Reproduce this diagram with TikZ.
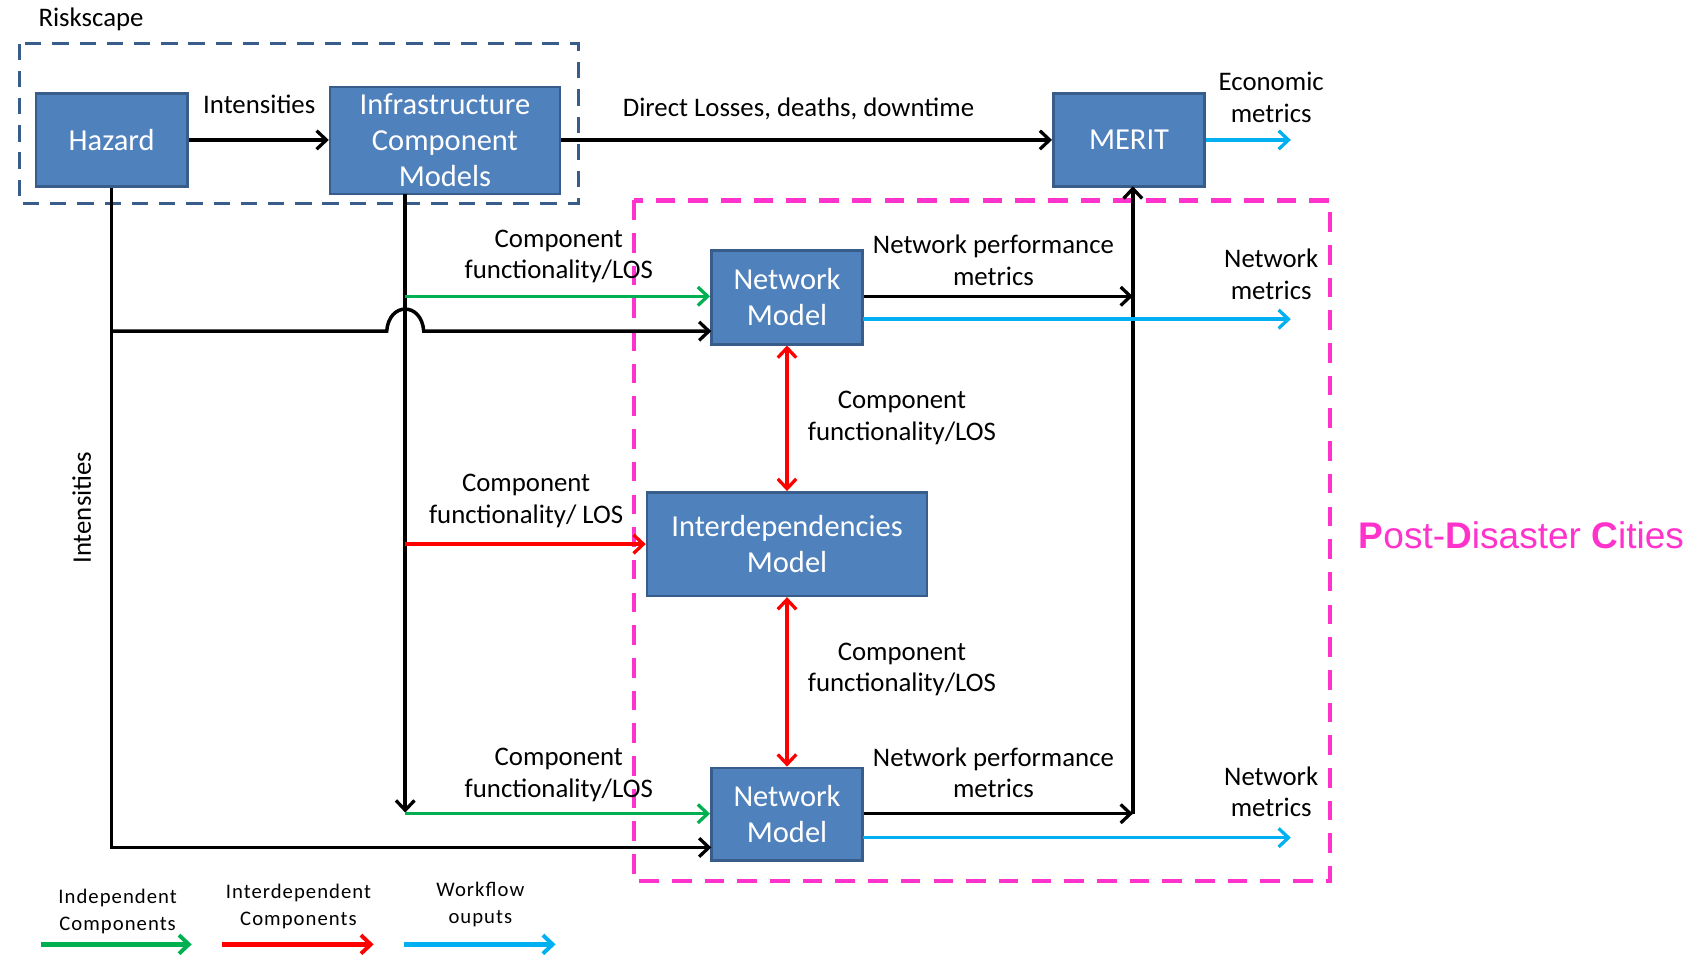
\documentclass[tikz,border=0pt]{standalone}
\usepackage{fontspec}
\setmainfont{Carlito}
\newfontfamily\arialf{Liberation Sans}
\usetikzlibrary{arrows.meta}
\definecolor{boxfill}{HTML}{4F81BD}
\definecolor{boxline}{HTML}{385D8A}
\definecolor{igreen}{HTML}{00B050}
\definecolor{ired}{HTML}{FF0000}
\definecolor{icyan}{HTML}{00B0F0}
\definecolor{ipink}{HTML}{FF33CC}
\begin{document}
\begin{tikzpicture}[x=0.5pt,y=-0.5pt,
  blk/.style={draw=boxline, line width=1.2pt, fill=boxfill, text=white,
    font=\fontsize{14}{16.5}\selectfont, align=center, inner sep=0pt},
  lbl/.style={font=\fontsize{12.3}{14.5}\selectfont, align=center, inner sep=0pt},
  leg/.style={font=\fontsize{9.5}{12.5}\selectfont\addfontfeature{LetterSpace=5}, align=center, inner sep=0pt},
  tip/.tip={Straight Barb[length=4.5pt,width=8.5pt,line width=1.5pt]},
  conn/.style={line width=1.6pt, -tip},
  dconn/.style={line width=1.6pt, tip-tip},
  legarrow/.style={line width=2pt, -{Straight Barb[length=4.5pt,width=8.5pt,line width=1.8pt]}}
]
\useasboundingbox (0,0) rectangle (1568,876);

% dashed frames
\draw[boxline, line width=1.6pt, dash pattern=on 7.5pt off 5pt] (18,40) rectangle (531,187);
\node[lbl, anchor=west] (risk) at (35,18) {Riskscape};
\draw[ipink, line width=2pt, dash pattern=on 9pt off 6pt] (582,184) rectangle (1221,809);
\node[anchor=west, inner sep=0pt, text=ipink, font=\arialf\fontsize{17}{20}\selectfont] (pdc) at (1247,491)
  {\textbf{P}ost-\textbf{D}isaster \textbf{C}ities};

% blocks
\node[blk, minimum width=69.5pt, minimum height=42.5pt] (haz) at (102.5,128.5) {Hazard};
\node[blk, minimum width=105.5pt, minimum height=49pt] (inf) at (408.5,129) {Infrastructure\\Component\\Models};
\node[blk, minimum width=69.5pt, minimum height=42.5pt] (mer) at (1036.5,128.5) {MERIT};
\node[blk, minimum width=69.5pt, minimum height=43pt] (nt) at (722.5,273) {Network\\Model};
\node[blk, minimum width=128.5pt, minimum height=47.5pt] (idm) at (722.5,499.5) {Interdependencies\\Model};
\node[blk, minimum width=69.5pt, minimum height=42.5pt] (nb) at (722.5,747.5) {Network\\Model};

% coordinates
\coordinate (hint) at (102.5,304);
\coordinate (hbot) at (102.5,778);
\coordinate (ntin) at (653,304);
\coordinate (nbin) at (653,778);
\coordinate (itop) at (372,178);
\coordinate (ibot) at (372,746);
\coordinate (g1) at (372,272);
\coordinate (r1) at (372,499.5);
\coordinate (g2) at (372,747);
\coordinate (vt) at (1040,272);
\coordinate (vb) at (1040,747);
\coordinate (vm) at (1040,171);
\coordinate (ntc) at (792,293);
\coordinate (nbc) at (792,769);
\coordinate (c1) at (1185,293);
\coordinate (c2) at (1185,769);
\coordinate (c0) at (1185,128.5);

% black connectors
\draw[conn] (haz.east) -- (inf.west |- haz.east);
\node[lbl] (lint) at (238,96) {Intensities};
\draw[conn] (inf.east |- mer.west) -- (mer.west);
\node[lbl] (ldl) at (733,100) {Direct Losses, deaths, downtime};
\draw[line width=1.6pt] (haz.south) -- (hint);
\draw[conn] (haz.south) -- (hbot) -- (nbin);
\draw[conn] (hint) -- (355,304) .. controls (357,277) and (387,277) .. (389,304) -- (ntin);
\draw[conn] (itop) -- (ibot);
\draw[conn] (nt.east |- vt) -- (vt);
\draw[conn] (nb.east |- vb) -- (vb);
\draw[conn] (vb) -- (vm);

% green / red
\draw[conn, igreen] (g1) -- (nt.west |- g1);
\draw[conn, igreen] (g2) -- (nb.west |- g2);
\draw[conn, ired] (r1) -- (idm.west);
\draw[dconn, ired] (nt.south) -- (idm.north);
\draw[dconn, ired] (idm.south) -- (nb.north);

% cyan outputs
\draw[conn, icyan] (mer.east) -- (c0);
\draw[conn, icyan] (ntc) -- (c1);
\draw[conn, icyan] (nbc) -- (c2);

% labels
\node[lbl] (l1) at (513,235.5) {Component\\functionality/LOS};
\node[lbl] (l2) at (483,460) {Component\\functionality/ LOS};
\node[lbl] (l3) at (513,711.5) {Component\\functionality/LOS};
\node[lbl] (l4) at (828,383.5) {Component\\functionality/LOS};
\node[lbl] (l5) at (828,614.5) {Component\\functionality/LOS};
\node[lbl] (l6) at (912,239) {Network performance\\metrics};
\node[lbl] (l7) at (912,709.5) {Network performance\\metrics};
\node[lbl] (l8) at (1167,252) {Network\\metrics};
\node[lbl] (l9) at (1167,727) {Network\\metrics};
\node[lbl] (l10) at (1167,89.5) {Economic\\metrics};
\node[lbl, rotate=90] (l11) at (75,466) {Intensities};

% legend
\coordinate (la1) at (38,867);
\coordinate (la2) at (176,867);
\coordinate (lb1) at (204,867);
\coordinate (lb2) at (343,867);
\coordinate (lc1) at (371,867);
\coordinate (lc2) at (510,867);
\draw[legarrow, igreen] (la1) -- (la2);
\draw[legarrow, ired] (lb1) -- (lb2);
\draw[legarrow, icyan] (lc1) -- (lc2);
\node[leg] (t1) at (108,836.5) {Independent\\Components};
\node[leg] (t2) at (274,832.5) {Interdependent\\Components};
\node[leg] (t3) at (441,830.5) {Workflow\\ouputs};
\end{tikzpicture}
\end{document}
